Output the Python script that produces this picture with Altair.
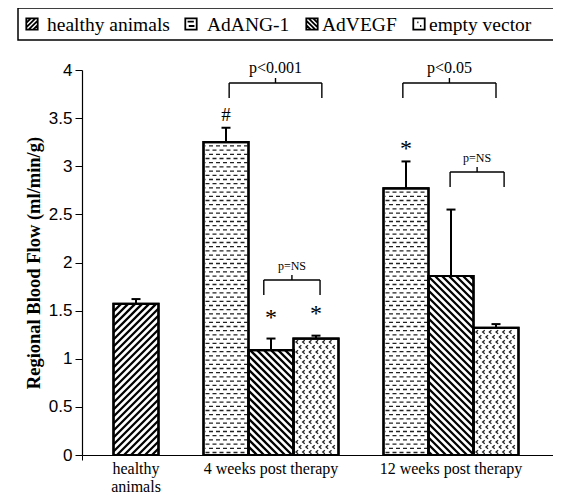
import altair as alt
import pandas as pd
import numpy as np

# ---------------- data ----------------
groups = ["healthy\nanimals", "4 weeks post therapy", "12 weeks post therapy"]
series = ["healthy animals", "AdANG-1", "AdVEGF", "empty vector"]
bar_group = [0, 1, 1, 1, 2, 2, 2]
bar_series = [0, 1, 2, 3, 1, 2, 3]
means = [1.57, 3.25, 1.09, 1.21, 2.77, 1.86, 1.32]
errors = [0.05, 0.15, 0.12, 0.03, 0.28, 0.69, 0.04]
y_ticks = [0, 0.5, 1, 1.5, 2, 2.5, 3, 3.5, 4]

# significance annotations: (from slot, to slot, level, label)
brackets = [
    (3.07, 5.13, 3.865, "p<0.001"),
    (6.93, 9.00, 3.865, "p<0.05"),
    (3.84, 5.09, 1.818, "p=NS"),
    (7.98, 9.18, 2.940, "p=NS"),
]
marks_txt = ["#", "*", "*", "*"]
marks_bar = [1, 2, 3, 4]       # index of bar the marker belongs to
marks_lift = [0.13, 0.26, 0.27, 0.17]

# ---------------- layout ----------------
W, H = 471, 385
XMIN = -0.2
XMAX = XMIN + W / 45.0
YMAX = 4.0
PX_X = W / (XMAX - XMIN)
PX_Y = H / YMAX
group_center = [1, 4, 8]
series_offset = [0, -1, 0, 1]
slots = [group_center[g] + series_offset[s] for g, s in zip(bar_group, bar_series)]

xscale = alt.Scale(domain=[XMIN, XMAX], nice=False, zero=False)
yscale = alt.Scale(domain=[0, YMAX], nice=False, zero=True)

bars = pd.DataFrame({
    "slot": slots,
    "series": [series[s] for s in bar_series],
    "mean": means,
    "err": errors,
})
bars["x0"] = bars["slot"] - 0.5
bars["x1"] = bars["slot"] + 0.5
bars["top"] = bars["mean"] + bars["err"]
bars["c0"] = bars["slot"] - 4.5 / PX_X
bars["c1"] = bars["slot"] + 4.5 / PX_X
bars["base"] = 0.0


def to_x(u):
    return u / PX_X + XMIN


def to_y(w):
    return w / PX_Y


# ---------- hatch patterns computed from the bars ----------
def diag(L, R, T, period, direction):
    segs = []
    if direction > 0:
        c = np.floor((L - T) / period) * period
        while c <= R:
            u1, u2 = max(L, c), min(R, c + T)
            if u2 > u1:
                segs.append((u1, u1 - c, u2, u2 - c))
            c += period
    else:
        c = np.floor(L / period) * period
        while c <= R + T:
            u1, u2 = max(L, c - T), min(R, c)
            if u2 > u1:
                segs.append((u1, c - u1, u2, c - u2))
            c += period
    return segs


diag_rows, dash_rows, dot_rows = [], [], []
for _, b in bars.iterrows():
    L = (b["x0"] - XMIN) * PX_X
    R = (b["x1"] - XMIN) * PX_X
    T = b["mean"] * PX_Y
    if b["series"] == series[0] or b["series"] == series[2]:
        d = 1 if b["series"] == series[0] else -1
        for u1, w1, u2, w2 in diag(L, R, T, 7.0, d):
            diag_rows.append({"x": to_x(u1), "y": to_y(w1), "x2": to_x(u2), "y2": to_y(w2)})
    elif b["series"] == series[1]:
        k = 0
        w = 2.5
        while w < T - 1.5:
            dash_rows.append({"x": to_x(L + 2), "x2": to_x(R - 1), "y": to_y(w), "par": k % 2})
            w += 4.2
            k += 1
    else:
        k = 0
        w = 3.0
        while w < T - 2:
            u = L + 3.5 + (k % 2) * 3.3
            while u < R - 2:
                dot_rows.append({"x": to_x(u), "y": to_y(w)})
                u += 6.7
            w += 5.0
            k += 1

diag_df = pd.DataFrame(diag_rows)
dash_df = pd.DataFrame(dash_rows)
dot_df = pd.DataFrame(dot_rows)

# ---------------- layers ----------------
X = lambda f: alt.X(f, type="quantitative", scale=xscale)
Y = lambda f: alt.Y(f, type="quantitative", scale=yscale)

axes_layer = alt.Chart(bars).mark_rect(
    fillOpacity=0, stroke="black", strokeWidth=2.2
).encode(
    x=alt.X("x0:Q", scale=xscale,
            axis=alt.Axis(values=[XMIN, XMAX], labels=False, tickSize=5, grid=False,
                          domainColor="black", tickColor="black", domainWidth=1.2, title=None)),
    x2="x1",
    y=alt.Y("mean:Q", scale=yscale,
            axis=alt.Axis(values=y_ticks, format="~g", grid=False, tickSize=7,
                          tickColor="black", domainColor="black", domainWidth=1.2,
                          labelColor="black", labelFont="Liberation Sans", labelFontSize=17,
                          labelPadding=3,
                          title="Regional Blood Flow (ml/min/g)", titleFont="Liberation Serif",
                          titleFontSize=18.5, titleFontWeight="bold", titleColor="black",
                          titlePadding=5)),
    y2="base",
)

hatch_diag = alt.Chart(diag_df).mark_rule(color="black", strokeWidth=2.3).encode(
    x=X("x"), x2="x2", y=Y("y"), y2="y2")

dash_even = alt.Chart(dash_df).transform_filter("datum.par == 0").mark_rule(
    color="#222", strokeWidth=1.3, strokeDash=[4, 3]).encode(x=X("x"), x2="x2", y=Y("y"))
dash_odd = alt.Chart(dash_df).transform_filter("datum.par == 1").mark_rule(
    color="#222", strokeWidth=1.3, strokeDash=[4, 3], strokeDashOffset=3.5).encode(x=X("x"), x2="x2", y=Y("y"))

dots = alt.Chart(dot_df).mark_point(
    shape="M0.6,-1L-0.6,0L0.6,1", filled=False, color="#222", strokeWidth=1.3, size=12, opacity=1
).encode(x=X("x"), y=Y("y"))

outline = alt.Chart(bars).mark_rect(
    fillOpacity=0, stroke="black", strokeWidth=2.2
).encode(x=X("x0"), x2="x1", y=Y("mean"), y2="base")

err_v = alt.Chart(bars).mark_rule(color="black", strokeWidth=2).encode(
    x=X("slot"), y=Y("mean"), y2="top")
err_cap = alt.Chart(bars).mark_rule(color="black", strokeWidth=2).encode(
    x=X("c0"), x2="c1", y=Y("top"))

# brackets
br_rows, br_txt = [], []
for x1, x2, lvl, lab in brackets:
    xc = (x1 + x2) / 2
    drop = 15 / PX_Y
    tick = 5 / PX_Y
    br_rows += [
        {"x": x1, "x2": x2, "y": lvl, "y2": lvl},
        {"x": x1, "x2": x1, "y": lvl - drop, "y2": lvl},
        {"x": x2, "x2": x2, "y": lvl - drop, "y2": lvl},
        {"x": xc, "x2": xc, "y": lvl, "y2": lvl + tick},
    ]
    big = lab != "p=NS"
    br_txt.append({"x": xc, "y": lvl + 7 / PX_Y, "label": lab,
                   "size": 16 if big else 12})
br_df = pd.DataFrame(br_rows)
brt_df = pd.DataFrame(br_txt)

br_lines = alt.Chart(br_df).mark_rule(color="black", strokeWidth=1.4).encode(
    x=X("x"), x2="x2", y=Y("y"), y2="y2")
br_text_big = alt.Chart(brt_df).transform_filter("datum.size == 16").mark_text(
    font="Liberation Serif", fontSize=16, baseline="bottom", color="black").encode(
    x=X("x"), y=Y("y"), text="label:N")
br_text_small = alt.Chart(brt_df).transform_filter("datum.size == 12").mark_text(
    font="Liberation Serif", fontSize=12, baseline="bottom", color="black").encode(
    x=X("x"), y=Y("y"), text="label:N")

mk_df = pd.DataFrame({
    "x": [slots[i] for i in marks_bar],
    "y": [means[i] + errors[i] + marks_lift[j] for j, i in enumerate(marks_bar)],
    "label": marks_txt,
})
mk_hash = alt.Chart(mk_df).transform_filter("datum.label == '#'").mark_text(
    font="Liberation Serif", fontSize=19, baseline="middle", color="black").encode(
    x=X("x"), y=Y("y"), text="label:N")
mk_star = alt.Chart(mk_df).transform_filter("datum.label == '*'").mark_text(
    font="Liberation Serif", fontSize=24, baseline="middle", dy=4, color="black").encode(
    x=X("x"), y=Y("y"), text="label:N")

# category labels
cat_df = pd.DataFrame({"x": group_center, "label": groups})
cats = alt.Chart(cat_df).mark_text(
    font="Liberation Serif", fontSize=16, baseline="top", lineBreak="\n", lineHeight=18,
    color="black", dy=6).encode(x=X("x"), y=alt.value(H), text="label:N")

# legend (manual, with pattern glyphs)
one = pd.DataFrame({"k": [0]})
legend_box = alt.Chart(one).mark_rect(fillOpacity=0, stroke="black", strokeWidth=1.5).encode(
    x=alt.value(-64), x2=alt.value(476), y=alt.value(-62), y2=alt.value(-30))
glyphs = [
    "M-1,-1H1V1H-1Z M-1,-0.2L-0.2,-1 M-1,0.6L0.6,-1 M-0.6,1L1,-0.6 M0.2,1L1,0.2",
    "M-1,-1H1V1H-1Z M-0.6,-0.4H0.5 M-0.4,0.35H0.6",
    "M-1,-1H1V1H-1Z M-1,0.2L-0.2,1 M-1,-0.6L0.6,1 M-0.6,-1L1,0.6 M0.2,-1L1,-0.2",
    "M-1,-1H1V1H-1Z M-0.3,-0.3L-0.1,-0.3 M0.2,0.35L0.4,0.35",
]
glyph_x = [-50, 109, 230, 337]
text_x = [-35, 125, 240, 347]
legend_layers = [legend_box]
for i, name in enumerate(series):
    d = pd.DataFrame({"label": [name]})
    legend_layers.append(alt.Chart(d).mark_point(
        shape=glyphs[i], filled=False, color="black", strokeWidth=1.8, size=130, opacity=1
    ).encode(x=alt.value(glyph_x[i]), y=alt.value(-46)))
    legend_layers.append(alt.Chart(d).mark_text(
        font="Liberation Serif", fontSize=19.5, align="left", baseline="middle", color="black"
    ).encode(x=alt.value(text_x[i]), y=alt.value(-45), text="label:N"))

chart = alt.layer(
    axes_layer, hatch_diag, dash_even, dash_odd, dots, outline,
    err_v, err_cap, br_lines, br_text_big, br_text_small, mk_hash, mk_star, cats,
    *legend_layers
).properties(
    width=W, height=H,
    padding={"left": 74, "top": 62, "right": 0, "bottom": 42},
    autosize=alt.AutoSizeParams(type="none"),
    background="white",
).configure_view(stroke=None)

chart.save("out.html", embed_options={"renderer": "svg", "actions": False})
